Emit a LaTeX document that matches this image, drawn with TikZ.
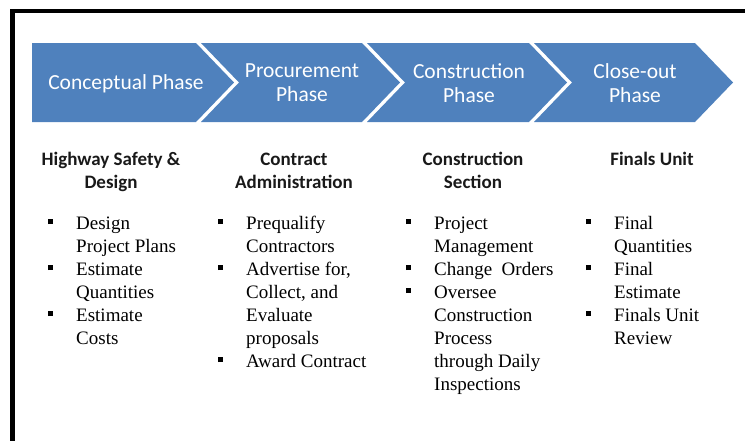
\documentclass[tikz,border=0pt]{standalone}
\usepackage{fontspec}
\setmainfont{Liberation Serif}
\newfontfamily\calibri{Carlito}
\definecolor{phaseblue}{HTML}{4F81BD}
\newcommand{\bul}{\llap{\rule[5pt]{5pt}{5pt}\hspace{23pt}}}

\begin{document}
\begin{tikzpicture}
[x=1pt,y=-1pt,
phase/.style={text=white,font=\calibri\fontsize{21.5}{24}\selectfont,align=center,inner sep=0pt},
unit/.style={text=black!90,font=\calibri\bfseries\fontsize{19}{23}\selectfont,align=center,inner sep=0pt,anchor=base},
tasks/.style={font=\fontsize{19}{23}\selectfont,align=left,inner sep=0pt,anchor=base west},]

\useasboundingbox (0,0) rectangle (745,440);
\draw[line width=4.5pt] (12.5,445) |- (750,11);

% chevrons
\fill[phaseblue] (32,43) -- (196,43) -- (234,82.5) -- (196,122) -- (32,122) -- cycle;
\foreach \l/\r in {201/362, 367/529, 534/695}
  \fill[phaseblue] (\l,43) -- (\r,43) -- (\r+38,82.5) -- (\r,122) -- (\l,122) -- (\l+38,82.5) -- cycle;

\node (conc) at (126,83.5)[phase]{Conceptual Phase};
\node (proc) at (302,83)[phase]{Procurement\\Phase};
\node (cons) at (469,83)[phase]{Construction\\Phase};
\node (close) at (635,83)[phase]{Close-out\\Phase};

% base = last line
\node (hsd) at (111,188)[unit]{Highway Safety \&\\Design};
\node (ca) at (294,188)[unit]{Contract\\Administration};
\node (cs) at (473,188)[unit]{Construction\\Section};
\node (fu) at (652,165)[unit]{Finals Unit};

\node (hsdlist) at (76,344)[tasks]{\bul Design\\Project Plans\\\bul Estimate\\Quantities\\\bul Estimate\\Costs};
\node (calist) at (246,367)[tasks]{\bul Prequalify\\Contractors\\\bul Advertise for,\\Collect, and\\Evaluate\\proposals\\\bul Award Contract};
\node (cslist) at (434,390)[tasks]{\bul Project\\Management\\\bul Change\ \ Orders\\\bul Oversee\\Construction\\Process\\through Daily\\Inspections};
\node (fulist) at (614,344)[tasks]{\bul Final\\Quantities\\\bul Final\\Estimate\\\bul Finals Unit\\Review};

\end{tikzpicture}
\end{document}
